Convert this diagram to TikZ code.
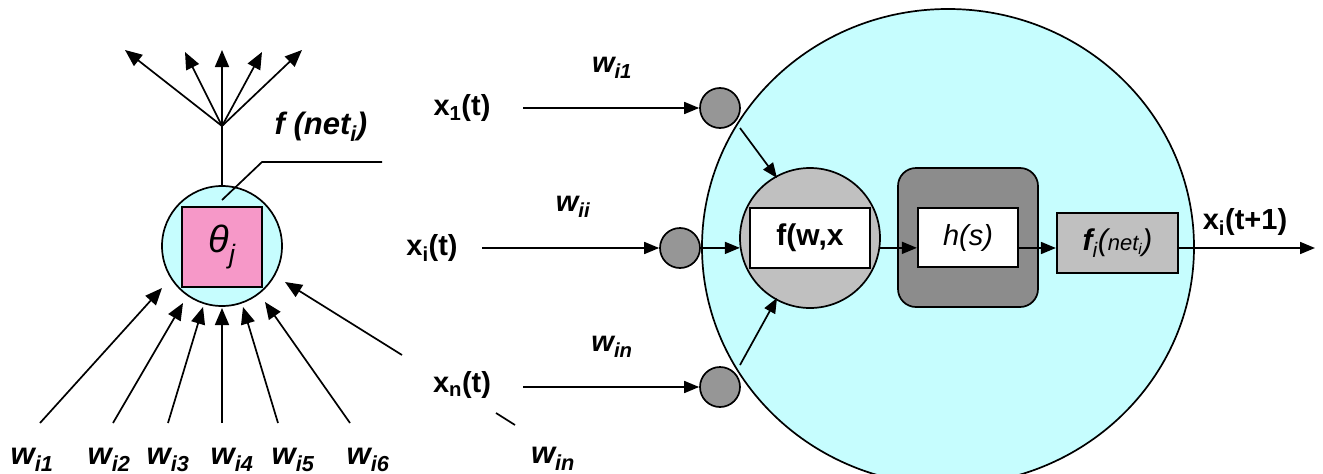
\documentclass[tikz,border=0pt]{standalone}
\usepackage{fontspec}
\setmainfont{Liberation Sans}
\usetikzlibrary{arrows.meta,shapes.geometric,calc}
\definecolor{cyanfill}{RGB}{198,253,254}
\definecolor{pinkfill}{RGB}{246,152,200}
\definecolor{midgray}{RGB}{150,150,150}
\definecolor{lightgray2}{RGB}{192,192,192}
\definecolor{darkgray2}{RGB}{140,140,140}
\tikzset{
  ln/.style={line width=1.7pt},
  arr/.style={line width=1.7pt,-{Triangle[length=17pt,width=14pt]}},
  arrs/.style={line width=1.7pt,-{Triangle[length=15pt,width=12pt]}},
  wlab/.style={font=\fontsize{31}{33}\selectfont\bfseries\itshape, inner sep=0pt, anchor=base},
  wlabs/.style={font=\fontsize{29}{31}\selectfont\bfseries\itshape, inner sep=0pt},
  xlab/.style={font=\fontsize{29}{31}\selectfont\bfseries, inner sep=0pt},
  gdot/.style={circle, draw, line width=1.7pt, fill=midgray, minimum size=40pt, inner sep=0pt},
}
\begin{document}
\begin{tikzpicture}[x=1pt,y=-1pt]
\useasboundingbox (0,0) rectangle (1323,474);
% ---------- left neuron ----------
\node[circle, draw, line width=1.7pt, fill=cyanfill, minimum size=120pt, inner sep=0pt] (n) at (222,246) {};
\node[draw, line width=2.2pt, fill=pinkfill, minimum size=80pt, inner sep=0pt,
      font=\fontsize{38}{40}\selectfont\itshape] (th) at (222,247) {θ\textsubscript{j}};
\coordinate (stem) at (222,126);
\draw[ln] (n.north) -- (stem);
\coordinate (o1) at (125,50);
\coordinate (o2) at (185,52);
\coordinate (o3) at (222,50);
\coordinate (o4) at (262,52);
\coordinate (o5) at (302,50);
\foreach \o in {o1,o2,o3,o4,o5} \draw[arr] (stem) -- (\o);
\node[wlab, anchor=center] (fnet) at (321,127) {f (net\textsubscript{i})};
\coordinate (l1) at (222,200);
\coordinate (l2) at (262,162);
\coordinate (l3) at (382,162);
\draw[ln] (l1) -- (l2) -- (l3);
% inputs
\coordinate (b1) at (40,423);  \coordinate (t1) at (162,288);
\coordinate (b2) at (113,423); \coordinate (t2) at (183,303);
\coordinate (b3) at (168,423); \coordinate (t3) at (203,307);
\coordinate (b4) at (222,423); \coordinate (t4) at (222,308);
\coordinate (b5) at (278,423); \coordinate (t5) at (243,307);
\coordinate (b6) at (350,423); \coordinate (t6) at (265,302);
\coordinate (b7) at (402,355); \coordinate (t7) at (285,282);
\foreach \i in {1,...,7} \draw[arr] (b\i) -- (t\i);
\node[wlab] (wb1) at (32,464) {w\textsubscript{i1}};
\node[wlab] (wb2) at (109,464) {w\textsubscript{i2}};
\node[wlab] (wb3) at (168,464) {w\textsubscript{i3}};
\node[wlab] (wb4) at (232,464) {w\textsubscript{i4}};
\node[wlab] (wb5) at (293,464) {w\textsubscript{i5}};
\node[wlab] (wb6) at (368,464) {w\textsubscript{i6}};
\node[wlab] (wbn) at (553,463) {w\textsubscript{in}};
\coordinate (d1) at (496,413);
\coordinate (d2) at (515,425);
\draw[ln] (d1) -- (d2);
% ---------- right neuron ----------
\node[ellipse, draw, line width=1.7pt, fill=cyanfill, minimum width=492pt, minimum height=476pt, inner sep=0pt] (big) at (948,247) {};
\node[gdot] (g1) at (720,108) {};
\node[gdot] (gi) at (680,248) {};
\node[gdot] (gn) at (720,387) {};
\node[xlab] (x1) at (462,108) {x\textsubscript{1}(t)};
\node[xlab] (xi) at (432,248) {x\textsubscript{i}(t)};
\node[xlab] (xn) at (462,385) {x\textsubscript{n}(t)};
\coordinate (s1) at (523,108);
\coordinate (si) at (482,248);
\coordinate (sn) at (523,387);
\draw[arrs] (s1) -- (g1.west);
\draw[arrs] (si) -- (gi.west);
\draw[arrs] (sn) -- (gn.west);
\node[wlabs] (w1) at (612,68) {w\textsubscript{i1}};
\node[wlabs] (wi) at (573,207) {w\textsubscript{ii}};
\node[wlabs] (wn) at (612,347) {w\textsubscript{in}};
% f(w,x) unit
\node[circle, draw, line width=1.7pt, fill=lightgray2, minimum size=140pt, inner sep=0pt] (fe) at (810,238) {};
\node[draw, line width=2.2pt, fill=white, minimum width=120pt, minimum height=60pt, inner sep=0pt,
      font=\fontsize{30}{32}\selectfont\bfseries] (fb) at (810,238) {f(w,x};
\coordinate (ya) at (0,248);
\draw[arrs] (gi.east) -- (fe.188);
\coordinate (u1) at (740,128); \coordinate (u2) at (777,178);
\coordinate (v1) at (740,365); \coordinate (v2) at (777,298);
\draw[arrs] (u1) -- (u2);
\draw[arrs] (v1) -- (v2);
% h(s) unit
\node[draw, line width=1.7pt, fill=darkgray2, rounded corners=18pt, minimum width=140pt, minimum height=139pt, inner sep=0pt] (hr) at (968,237.5) {};
\node[draw, line width=2.2pt, fill=white, minimum width=100pt, minimum height=59pt, inner sep=0pt,
      font=\fontsize{29}{31}\selectfont\itshape] (hs) at (968,237.5) {h(s)};
\draw[arrs] (fe.352) -- (fe.352 -| hs.west);
% f_i(net_i)
\node[draw, line width=2.2pt, fill=lightgray2, minimum width=121pt, minimum height=60pt, inner sep=0pt,
      font=\fontsize{30}{32}\selectfont\itshape] (fi) at (1117.5,243) {\textbf{f}\textsubscript{i}({\fontsize{22}{24}\selectfont net\textsubscript{i}})};
\draw[arrs] (hs.east |- ya) -- (fi.west |- ya);
\coordinate (out) at (1315,248);
\draw[arrs] (fi.east |- ya) -- (out);
\node[xlab] (xo) at (1245,222) {x\textsubscript{i}(t+1)};
\end{tikzpicture}
\end{document}
